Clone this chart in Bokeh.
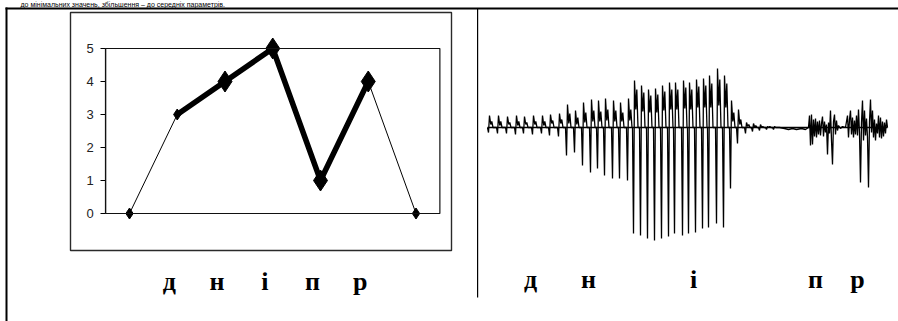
from bokeh.plotting import figure
from bokeh.models import Range1d, BoxAnnotation, FixedTicker, LinearAxis
from bokeh.core.properties import value
from bokeh.embed import file_html
from bokeh.resources import INLINE

# ---------------- data: left chart (pitch levels) ----------------
point_index = [0, 1, 2, 3, 4, 5, 6]
levels = [0, 3, 4, 5, 1, 4, 0]
thick_from, thick_to = 1, 5          # stretch drawn with the heavy line
big_marker_points = [2, 3, 4, 5]     # points with large diamonds
letters = ["д", "н", "і", "п", "р"]
letter_points = [1, 2, 3, 4, 5]
y_ticks = [0, 1, 2, 3, 4, 5]

# ---------------- data: right chart (waveform) ----------------
# voiced part, one entry per pitch period: start time, trough, main peak, inner dip, second peak
period_t = [0, 9, 18, 27, 35, 44, 53, 61, 70,
            78, 86, 94, 102, 109, 116, 124, 131, 139,
            145, 152, 159, 166, 173, 180, 186, 194, 200, 207, 214, 220, 228, 235,
            242, 249, 257, 264, 271, 278, 285]
period_lo = [-5, -6, -6, -7, -6, -7, -6, -8, -9,
             -28, -25, -38, -45, -41, -48, -51, -51, -53,
             -106, -108, -111, -113, -111, -109, -106, -108, -106, -105, -101, -100, -96, -100,
             -61, -16, -6, -4, -3, -2, -2]
period_hi = [12, 12, 11, 12, 11, 12, 12, 13, 14,
             23, 17, 25, 28, 27, 29, 27, 25, 29,
             47, 42, 38, 39, 42, 45, 45, 47, 45, 48, 49, 52, 59, 52,
             27, 18, 5, 4, 3, 1, 1]
period_mid = [3, 2, 3, 2, 3, 3, 2, 4, 4,
              4, 3, 5, 6, 6, 7, 6, 6, 7,
              18, 16, 15, 15, 17, 18, 18, 19, 18, 20, 20, 20, 22, 20,
              6, 3, 1, 0, 0, 0, 0]
period_hi2 = [6, 6, 5, 6, 5, 6, 6, 7, 8,
              14, 10, 15, 17, 16, 18, 17, 15, 18,
              38, 35, 32, 33, 36, 38, 38, 40, 38, 41, 42, 44, 48, 44,
              15, 8, 3, 2, 1, 1, 0]
# unvoiced tail (pause and the noisy bursts), sample by sample
tail_t = [292, 297, 301, 305, 309, 314, 318, 321,
          322, 323, 324, 325, 326, 327, 328, 329, 330, 331, 332, 333, 334, 335, 336, 337,
          338, 339, 340, 341, 342, 343, 344, 345, 346, 347, 348, 349, 350, 351, 353, 355, 358,
          360, 361, 362, 363, 364, 365, 366, 367, 368, 369, 370, 371, 372, 373, 374, 375,
          376, 377, 378, 379, 380, 381, 382, 383, 384, 385, 386, 387, 388, 389, 390, 391,
          392, 393, 394, 395, 396, 397, 398, 399, 400]
tail_amp = [0, -1, -2, -1, -2, -1, -2, 0,
            12, -18, 13, -17, 8, -9, 9, -10, 6, -7, 7, -8, 4, 11, -9, 6,
            -5, 3, -27, 5, -6, 17, -13, -37, 6, 13, -7, 7, -3, 2, -1, 1, 0,
            12, -10, 8, 17, -7, 10, -10, 7, -7, 12, -8, 18, -6, -55, 5, 27,
            -13, 17, -8, 9, -10, -60, 6, 28, -5, 17, -10, 8, -13, 4, -6, 12,
            -10, 10, -11, 6, -9, 5, -6, 8, 0]
phone_t = [43, 101, 206, 328, 370]

heading = "до мінімальних значень, збільшення – до середніх параметрів."

# ---------------- page geometry (pixels) ----------------
W, H = 898, 321
L_X0, L_DX = 129.0, 47.75     # pixel x of first point, pixels per point
L_Y0, L_DY = 213.0, 33.0      # pixel y of level 0, pixels per level
W_X0, W_Y0 = 487.0, 127.0     # pixel x of waveform start, pixel y of waveform baseline

p = figure(width=W, height=H, x_range=Range1d(0, W), y_range=Range1d(H, 0),
           output_backend="svg", toolbar_location=None,
           x_axis_type=None, y_axis_type=None,
           min_border_left=0, min_border_right=0, min_border_top=0, min_border_bottom=0)
p.outline_line_color = None
p.background_fill_color = "white"
p.border_fill_color = "white"

p.extra_x_ranges = {
    "lx": Range1d(-L_X0 / L_DX, (W - L_X0) / L_DX),
    "wx": Range1d(-W_X0, W - W_X0),
}
p.extra_y_ranges = {
    "ly": Range1d(-(H - L_Y0) / L_DY, L_Y0 / L_DY),
    "wy": Range1d(-(H - W_Y0), W_Y0),
}

def canvas_box(l, r, t, b, **kw):
    return BoxAnnotation(left=l, right=r, top=t, bottom=b,
                         left_units="canvas", right_units="canvas",
                         top_units="canvas", bottom_units="canvas", **kw)

# heading line of the document, above the table
p.text(x=20, y=0.5, text=[heading], text_align="left", text_baseline="top",
       text_font=value("Liberation Sans"), text_font_size="7px", text_color="black")

# table borders
p.add_layout(canvas_box(5, W, 7, 9, fill_color="black", fill_alpha=1,
                        line_color=None))
p.add_layout(canvas_box(5, 7, 7, H, fill_color="black", fill_alpha=1,
                        line_color=None))
p.add_layout(canvas_box(476.5, 477.7, 8, 297, fill_color="black", fill_alpha=1,
                        line_color=None))
# outer chart box
p.add_layout(canvas_box(70, 451, 12, 250, fill_alpha=0, line_color="#2a2a2a",
                        line_alpha=1, line_width=1.4))

# ---------------- left chart ----------------
yaxis = LinearAxis(x_range_name="lx", y_range_name="ly", fixed_location=-0.5,
                   bounds=(0, 5), ticker=FixedTicker(ticks=y_ticks))
yaxis.axis_line_color = "black"
yaxis.axis_line_width = 1.2
yaxis.major_tick_line_color = "black"
yaxis.major_tick_line_width = 1.2
yaxis.major_tick_in = 0
yaxis.major_tick_out = 5
yaxis.minor_tick_line_color = None
yaxis.major_label_text_font = "Liberation Sans"
yaxis.major_label_text_font_size = "13px"
yaxis.major_label_text_color = "#222222"
yaxis.major_label_standoff = 7
p.add_layout(yaxis, "left")

p.add_layout(BoxAnnotation(left=-0.5, right=6.5, bottom=0, top=5,
                           x_range_name="lx", y_range_name="ly",
                           fill_alpha=0, line_color="#111111", line_alpha=1, line_width=1.2))

p.line(point_index, levels, line_color="black", line_width=1,
       x_range_name="lx", y_range_name="ly")
p.line(point_index[thick_from:thick_to + 1], levels[thick_from:thick_to + 1],
       line_color="black", line_width=5.5, line_join="round",
       x_range_name="lx", y_range_name="ly")
small_pts = [i for i in point_index if i not in big_marker_points]
p.scatter([point_index[i] for i in small_pts], [levels[i] for i in small_pts],
          marker="diamond", size=11, color="black", x_range_name="lx", y_range_name="ly")
p.scatter([point_index[i] for i in big_marker_points], [levels[i] for i in big_marker_points],
          marker="diamond", size=21, color="black", x_range_name="lx", y_range_name="ly")

p.text(x=[point_index[i] for i in letter_points], y=-2.06, text=letters,
       x_offset=-8, text_align="center", text_baseline="alphabetic",
       text_font=value("Liberation Serif"), text_font_style="bold",
       text_font_size="26px", text_color="black", x_range_name="lx", y_range_name="ly")

# ---------------- right chart (waveform) ----------------
wx, wy = [], []
for t, lo, hi, mid, hi2 in zip(period_t, period_lo, period_hi, period_mid, period_hi2):
    wx += [t, t + 1, t + 2, t + 3.3, t + 4.3, t + 5.5]
    wy += [0, lo, hi, mid, hi2, 0]
wx += tail_t
wy += tail_amp

p.segment(x0=min(wx), x1=max(wx), y0=0, y1=0, line_color="black", line_width=1.5,
          x_range_name="wx", y_range_name="wy")
p.line(wx, wy, line_color="black", line_width=1.3, x_range_name="wx", y_range_name="wy")
p.text(x=phone_t, y=-152, text=letters, text_align="center", text_baseline="alphabetic",
       text_font=value("Liberation Serif"), text_font_style="bold",
       text_font_size="26px", text_color="black", x_range_name="wx", y_range_name="wy")

open("out.html", "w").write(file_html(p, INLINE))
